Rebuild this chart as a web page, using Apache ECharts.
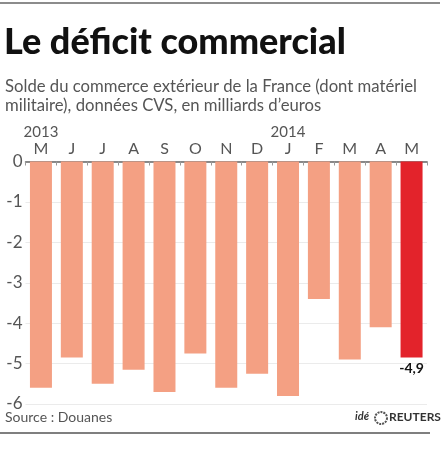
<!DOCTYPE html>
<html><head><meta charset="utf-8">
<script src="https://cdn.jsdelivr.net/npm/echarts@6/dist/echarts.min.js"></script>
<style>html,body{margin:0;padding:0;background:#fff}#c{width:446px;height:450px}</style>
</head><body><div id="c"></div>
<script>
const months = ['M','J','J','A','S','O','N','D','J','F','M','A','M'];
const years = {0:'2013', 8:'2014'};
const values = [-5.6,-4.85,-5.5,-5.15,-5.7,-4.75,-5.6,-5.25,-5.8,-3.4,-4.9,-4.1,-4.85];
const lastLabel = '-4,9';
const yTicks = [0,-1,-2,-3,-4,-5,-6];

const FONT = 'Lato';
const chart = echarts.init(document.getElementById('c'), null, {renderer:'canvas'});
const data = values.map((v,i)=>({
  value:v,
  itemStyle:{color: i===values.length-1 ? '#E3232B' : '#F4A083'},
  label: i===values.length-1 ? {show:true, position:'bottom', formatter:lastLabel, color:'#111', fontWeight:'bold', fontSize:14, fontFamily:FONT, distance:4} : {show:false}
}));
chart.setOption({
  animation:false,
  backgroundColor:'#fff',
  grid:{left:25.5, right:19, top:161.5, bottom:46, containLabel:false},
  xAxis:{type:'category', position:'top', data:months,
    axisLine:{show:true, lineStyle:{color:'#666', width:1.5}},
    axisTick:{show:true, inside:true, length:4, alignWithLabel:false, interval:0, lineStyle:{color:'#999'}},
    axisLabel:{color:'#555', fontSize:16, fontFamily:FONT, margin:4, lineHeight:17, interval:0,
      formatter:(v,i)=> years[i] ? '{y|'+years[i]+'}\n'+v : v,
      rich:{y:{color:'#555', fontSize:15, fontFamily:FONT, lineHeight:17}}}
  },
  yAxis:{type:'value', min:-6, max:0, interval:1,
    axisLine:{show:false}, axisTick:{show:false},
    axisLabel:{color:'#555', fontSize:17, fontFamily:FONT, margin:3, formatter:v=>String(v)},
    splitLine:{show:true, lineStyle:{color:'#ebebeb', width:1}}
  },
  series:[{type:'bar', data:data, barWidth:22, z:3}],
  graphic:[
    {type:'line', shape:{x1:0,y1:3,x2:440,y2:3}, style:{stroke:'#666', lineWidth:1.5}},
    {type:'text', left:4, top:24, style:{text:'Le déficit commercial', font:'900 36px '+FONT, fill:'#111'}},
    {type:'text', left:5, top:77, style:{text:'Solde du commerce extérieur de la France (dont matériel\nmilitaire), données CVS, en milliards d\u2019euros', font:'16.7px '+FONT, fill:'#555', lineHeight:19}},
    {type:'text', left:5, top:410, style:{text:'Source : Douanes', font:'14px '+FONT, fill:'#555'}},
    {type:'line', shape:{x1:0,y1:433,x2:430,y2:433}, style:{stroke:'#555', lineWidth:1.5}},
    {type:'text', left:355, top:411, style:{text:'idé', font:'italic bold 11px '+FONT, fill:'#333'}},
    {type:'circle', shape:{cx:381, cy:418, r:6}, style:{fill:'none', stroke:'#555', lineWidth:2, lineDash:[2,1]}},
    {type:'text', left:389, top:411, style:{text:'REUTERS', font:'bold 12px '+FONT, fill:'#333'}}
  ]
});
</script></body></html>
